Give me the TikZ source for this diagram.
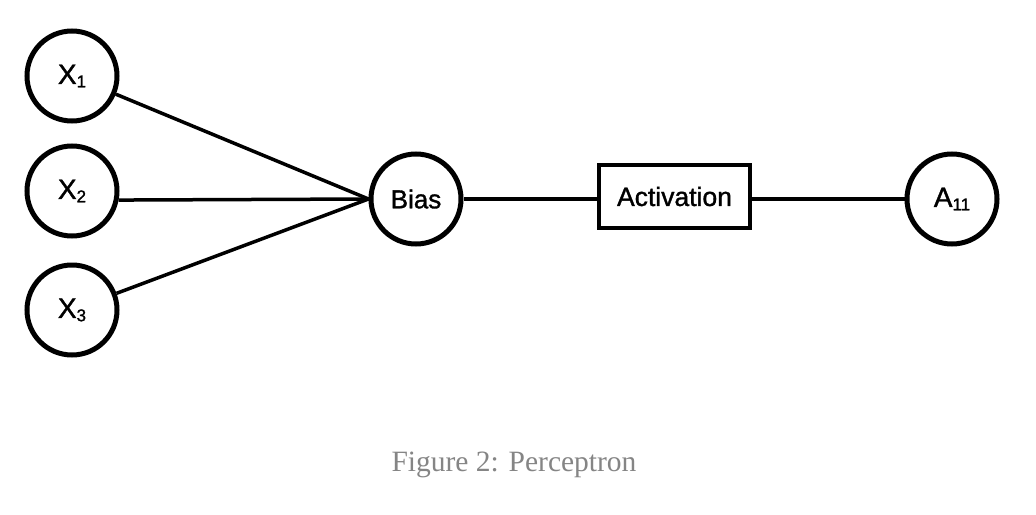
\documentclass[tikz,border=0pt]{standalone}
\usepackage{fontspec}
\setmainfont{Liberation Sans}[FakeBold=1.3]
\newfontfamily\capfont{Liberation Serif}
\definecolor{capgray}{HTML}{858585}
\newcommand{\lbl}[2]{#1\raisebox{-0.12em}{\fontsize{17}{17}\selectfont #2}}
\begin{document}
\begin{tikzpicture}[x=1pt,y=-1pt,
  neuron/.style={circle,draw=black,line width=5pt,minimum size=90pt,inner sep=0pt,
    font=\fontsize{28}{30}\selectfont},
  actbox/.style={rectangle,draw=black,line width=4.5pt,minimum width=151pt,minimum height=63pt,
    inner sep=0pt,font=\fontsize{26.5}{28}\selectfont},
  conn/.style={line width=3.5pt,black}]
\useasboundingbox (0,0) rectangle (1036,514);
\node[neuron] (x1) at (72,76) {\lbl{X}{1}};
\node[neuron] (x2) at (72,191) {\lbl{X}{2}};
\node[neuron] (x3) at (72,310) {\lbl{X}{3}};
\node[neuron,font=\fontsize{26}{28}\selectfont] (bias) at (416,199) {Bias};
\node[actbox] (act) at (674.5,196.5) {Activation};
\node[neuron] (a11) at (952,199) {\lbl{A}{11}};
\coordinate (bj) at (bias.west);
\draw[conn] (x1) -- (bj);
\draw[conn] (x2.-11) -- (bj);
\draw[conn] (x3) -- (bj);
\draw[conn] (bias.east) -- (act.west |- bias.east);
\draw[conn] (act.east |- a11.west) -- (a11.west);
\node[font=\capfont\fontsize{29.5}{31}\selectfont,text=capgray] (cap) at (514,465) {Figure 2: Perceptron};
\end{tikzpicture}
\end{document}
